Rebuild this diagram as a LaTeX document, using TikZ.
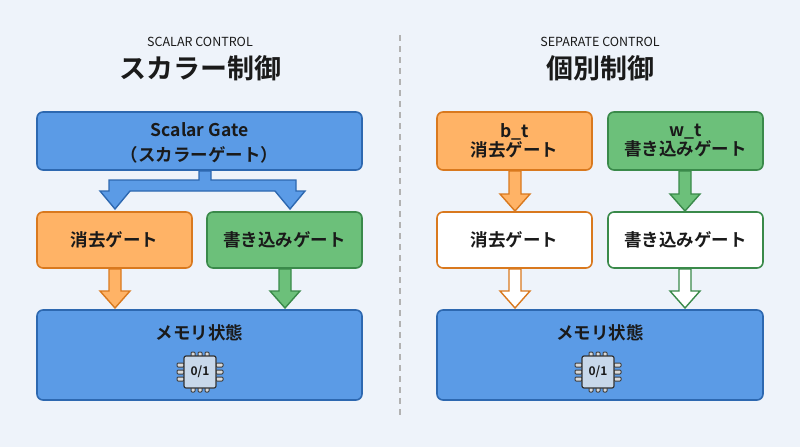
\documentclass[tikz,border=0pt]{standalone}
\usepackage{fontspec}
\setmainfont{Noto Sans CJK JP}[BoldFont={* Bold}]
\usetikzlibrary{calc}
\definecolor{bg}{HTML}{EEF3FA}
\definecolor{bfill}{HTML}{5B9BE6}
\definecolor{bdraw}{HTML}{2D68B0}
\definecolor{ofill}{HTML}{FFB366}
\definecolor{odraw}{HTML}{D9791E}
\definecolor{gfill}{HTML}{6CC07A}
\definecolor{gdraw}{HTML}{3A8A4A}
\definecolor{txt}{HTML}{1A1A1A}
\tikzset{
  box/.style={draw, line width=1.6pt, rounded corners=6pt, inner sep=0pt, text=txt, font=\bfseries\fontsize{17.5}{21}\selectfont, align=center},
  blue/.style={box, fill=bfill, draw=bdraw},
  org/.style={box, fill=ofill, draw=odraw},
  grn/.style={box, fill=gfill, draw=gdraw},
  lbl/.style={text=txt, font=\bfseries\fontsize{17.5}{21}\selectfont, align=center},
}
\newcommand{\barw}[5]{% x, ytop, ybot, fill, draw
  \filldraw[fill=#4, draw=#5, line width=1.4pt, line join=miter]
   (#1-6,#2) -- (#1+6,#2) -- (#1+6,#3-17) -- (#1+15,#3-17) -- (#1,#3) -- (#1-15,#3-17) -- (#1-6,#3-17) -- cycle;}
\begin{document}
\begin{tikzpicture}[x=1pt,y=-1pt]
\fill[bg] (0,0) rectangle (800,447);
\useasboundingbox (0,0) rectangle (800,447);
\draw[gray!60, dashed, line width=1.2pt, dash pattern=on 6pt off 5pt] (400,35) -- (400,415);
% titles
\node[text=txt, font=\fontsize{12.5}{14}\selectfont] (t1) at (200,42) {SCALAR CONTROL};
\node[text=txt, font=\bfseries\fontsize{27}{31}\selectfont] (t2) at (200,68) {スカラー制御};
\node[text=txt, font=\fontsize{12.5}{14}\selectfont] (t3) at (600,42) {SEPARATE CONTROL};
\node[text=txt, font=\bfseries\fontsize{27}{31}\selectfont] (t4) at (600,68) {個別制御};
% left
\node[blue, minimum width=325pt, minimum height=58pt] (sg) at (199.5,141) {};
\node[lbl] (sgt) at (199.5,130) {Scalar Gate};
\node[lbl] (sgt2) at (199.5,155) {（スカラーゲート）};
\node[org, minimum width=155pt, minimum height=56pt] (er) at (114.5,240) {消去ゲート};
\node[grn, minimum width=155pt, minimum height=56pt] (wr) at (284.5,240) {書き込みゲート};
\node[blue, minimum width=325pt, minimum height=90pt] (mem) at (199.5,355) {};
\node[lbl] (memt) at (199.5,333) {メモリ状態};
\filldraw[fill=bfill, draw=bdraw, line width=1.4pt, line join=miter]
 (199,171) -- (211,171) -- (211,180) -- (296,180) -- (296,191) -- (305,191) -- (290,209) -- (275,191)
 -- (130,191) -- (115,209) -- (100,191) -- (109,191) -- (109,180) -- (199,180) -- cycle;
\barw{115}{269}{308}{ofill}{odraw}
\barw{285}{269}{308}{gfill}{gdraw}
% right
\node[org, minimum width=155pt, minimum height=58pt] (bt) at (514.5,141) {b\_t\\[-2pt]消去ゲート};
\node[grn, minimum width=155pt, minimum height=58pt] (wt) at (685.5,141) {w\_t\\[-2pt]書き込みゲート};
\node[box, fill=white, draw=odraw, minimum width=155pt, minimum height=56pt] (er2) at (514.5,240) {消去ゲート};
\node[box, fill=white, draw=gdraw, minimum width=155pt, minimum height=56pt] (wr2) at (685.5,240) {書き込みゲート};
\node[blue, minimum width=326pt, minimum height=90pt] (mem2) at (600,355) {};
\node[lbl] (memt2) at (600,333) {メモリ状態};
\barw{515}{171}{211}{ofill}{odraw}
\barw{685}{171}{211}{gfill}{gdraw}
\barw{515}{269}{308}{white}{odraw}
\barw{685}{269}{308}{white}{gdraw}
% chips
\foreach \cx/\nm in {200/c1, 598/c2}{
  \foreach \d in {-7,0,7}{
    \draw[line width=1pt, draw=black!75, fill=black!15, rounded corners=1pt] (\cx+\d-2,352) rectangle (\cx+\d+2,359);
    \draw[line width=1pt, draw=black!75, fill=black!15, rounded corners=1pt] (\cx+\d-2,385) rectangle (\cx+\d+2,392);
    \draw[line width=1pt, draw=black!75, fill=black!15, rounded corners=1pt] (\cx-23,372+\d-2) rectangle (\cx-16,372+\d+2);
    \draw[line width=1pt, draw=black!75, fill=black!15, rounded corners=1pt] (\cx+16,372+\d-2) rectangle (\cx+23,372+\d+2);
  }
  \node[draw=black!80, line width=1.2pt, fill=black!20!bfill!30!white, rounded corners=2pt, minimum size=32pt, inner sep=0pt, font=\bfseries\fontsize{12}{13}\selectfont, text=txt] (\nm) at (\cx,372) {0/1};
}
\end{tikzpicture}
\end{document}
